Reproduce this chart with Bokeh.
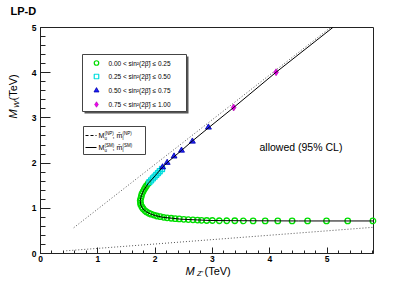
import math
from bokeh.plotting import figure
from bokeh.models import Label, BoxAnnotation, Range1d, FixedTicker, LinearAxis
from bokeh.embed import file_html
from bokeh.resources import INLINE

# ---------------- data (TeV) ----------------
# SM-like solid curve (M_Z', M_W')
sm_x = [5.10, 4.11, 3.37, 2.94, 2.66, 2.46, 2.32, 2.21, 2.13, 2.00, 1.88, 1.80,
        1.76, 1.74, 1.75, 1.79, 1.85, 1.91, 2.00, 2.14, 2.30, 2.44, 2.70, 2.96,
        3.50, 4.50, 5.81]
sm_y = [5.00, 4.01, 3.23, 2.79, 2.50, 2.28, 2.13, 2.01, 1.91, 1.72, 1.55, 1.40,
        1.28, 1.17, 1.07, 0.98, 0.92, 0.88, 0.84, 0.80, 0.78, 0.76, 0.745, 0.73,
        0.725, 0.72, 0.72]

# NP dotted bounds
np_up_x = [0.58, 5.06]
np_up_y = [0.57, 5.00]
np_lo_x = [0.45, 5.81]
np_lo_y = [0.06, 0.58]

# 0.00 < sin^2 <= 0.25 (green circles)
g_x = [1.88, 1.85, 1.83, 1.81, 1.79, 1.77, 1.76, 1.75, 1.74, 1.745, 1.75, 1.77,
       1.79, 1.82, 1.85, 1.89, 1.93, 1.98, 2.03, 2.09, 2.15, 2.21, 2.28, 2.35,
       2.42, 2.50, 2.58, 2.66, 2.74, 2.81, 2.90, 3.00, 3.12, 3.25, 3.39, 3.54,
       3.71, 3.92, 4.14, 4.39, 4.66, 4.99, 5.36, 5.80]
g_y = [1.55, 1.50, 1.46, 1.42, 1.37, 1.32, 1.27, 1.22, 1.17, 1.12, 1.08, 1.03,
       0.99, 0.95, 0.92, 0.89, 0.87, 0.85, 0.83, 0.815, 0.80, 0.79, 0.78, 0.77,
       0.765, 0.755, 0.75, 0.745, 0.74, 0.735, 0.73, 0.73, 0.725, 0.725, 0.725, 0.72,
       0.72, 0.72, 0.72, 0.72, 0.72, 0.72, 0.72, 0.72]
# 0.25 < sin^2 <= 0.50 (cyan squares)
c_x = [1.90, 1.93, 1.96, 1.99, 2.02, 2.05, 2.08, 2.12]
c_y = [1.58, 1.62, 1.66, 1.70, 1.74, 1.78, 1.82, 1.87]
# 0.50 < sin^2 <= 0.75 (blue triangles)
b_x = [2.13, 2.21, 2.33, 2.46, 2.65, 2.93]
b_y = [1.91, 2.01, 2.15, 2.28, 2.48, 2.79]
# 0.75 < sin^2 <= 1.00 (magenta)
m_x = [3.37, 4.11]
m_y = [3.23, 4.01]

x_ticks = [0, 1, 2, 3, 4, 5]
y_ticks = [0, 1, 2, 3, 4, 5]
legend_labels = ["0.00 < sin\u00b2(2\u03b2\u0303) \u2264 0.25",
                 "0.25 < sin\u00b2(2\u03b2\u0303) \u2264 0.50",
                 "0.50 < sin\u00b2(2\u03b2\u0303) \u2264 0.75",
                 "0.75 < sin\u00b2(2\u03b2\u0303) \u2264 1.00"]

# ---------------- layout ----------------
XMAX, YMAX = 5.81, 5.0
W, H = 415, 281
PX0, PY0 = 40, 253        # page px of the data origin
FW, FH = 333, 226         # page px of the data box


def dx(px):
    return (px - PX0) / FW * XMAX


def dy(py):
    return (PY0 - py) / FH * YMAX


# the frame spans the whole canvas; axes are pinned at data 0
p = figure(width=W, height=H, output_backend="svg", toolbar_location=None,
           x_range=Range1d(dx(0), dx(W)), y_range=Range1d(dy(H), dy(0)),
           x_axis_location=None, y_axis_location=None,
           min_border_left=0, min_border_right=0, min_border_top=0,
           min_border_bottom=0, title_location=None)
p.grid.visible = False
p.outline_line_color = None
p.background_fill_color = "white"
p.border_fill_color = "white"

xa = LinearAxis(fixed_location=0, bounds=(0, XMAX),
                ticker=FixedTicker(ticks=x_ticks, minor_ticks=[i * 0.2 for i in range(30)]))
ya = LinearAxis(fixed_location=0, bounds=(0, YMAX),
                ticker=FixedTicker(ticks=y_ticks, minor_ticks=[i * 0.2 for i in range(26)]))
for ax, tin, mtin, st in ((xa, 6, 3, 2), (ya, 10, 5, 4)):
    ax.major_tick_in = tin
    ax.major_tick_out = 0
    ax.minor_tick_in = mtin
    ax.minor_tick_out = 0
    ax.major_label_standoff = st
    ax.major_label_text_font = "Liberation Sans"
    ax.major_label_text_font_style = "bold"
    ax.major_label_text_font_size = "8.5px"
    ax.major_label_text_color = "black"
    ax.axis_line_color = "#222222"
    ax.major_tick_line_color = "#222222"
    ax.minor_tick_line_color = "#222222"
p.add_layout(xa, "below")
p.add_layout(ya, "left")

# plot frame (top and right edges; the axes draw bottom and left)
p.add_layout(BoxAnnotation(left=0, right=XMAX, bottom=0, top=YMAX, fill_alpha=0,
                           line_color="#222222", line_width=1, line_alpha=1,
                           level="underlay"))

# ---------------- glyphs ----------------
p.line(np_up_x, np_up_y, line_color="#555555", line_dash="1 2", line_width=1)
p.line(np_lo_x, np_lo_y, line_color="#555555", line_dash="1 2", line_width=1)

p.scatter(g_x, g_y, marker="circle", size=5.5, fill_color=None,
          line_color="#00dd00", line_width=1.3)
p.scatter(c_x, c_y, marker="square", size=5, fill_color=None,
          line_color="#00dddd", line_width=1.3)
p.scatter(b_x, b_y, marker="triangle", size=6, fill_color="#2020ff",
          line_color="#0000aa", line_width=0.8)
p.scatter(m_x, m_y, marker="diamond", size=7, fill_color="#ee00ee",
          line_color="#aa00aa", line_width=0.6)
p.line(sm_x, sm_y, line_color="black", line_width=1)


def T(px, py, text, size, style="normal", align="left", baseline="middle",
      angle=0.0, color="black"):
    p.add_layout(Label(x=dx(px), y=dy(py), text=text, text_font="Liberation Sans",
                       text_font_size=f"{size}px", text_font_style=style,
                       text_align=align, text_baseline=baseline, angle=angle,
                       text_color=color))


def box(l, t, r, b, shadow=False):
    if shadow:
        p.add_layout(BoxAnnotation(left=dx(l + 2), right=dx(r + 2), top=dy(t + 2),
                                   bottom=dy(b + 2), fill_color="#555555",
                                   fill_alpha=1, line_color=None, level="underlay"))
    p.add_layout(BoxAnnotation(left=dx(l), right=dx(r), top=dy(t), bottom=dy(b),
                               fill_color="white", fill_alpha=1,
                               line_color="#444444", line_width=1, line_alpha=1,
                               level="underlay"))


# legend 1
box(82, 54, 186, 111, shadow=True)
rows = [62.5, 76, 90, 104]
p.scatter([dx(96)], [dy(rows[0])], marker="circle", size=4.5, fill_color=None,
          line_color="#00dd00", line_width=1.2)
p.scatter([dx(96)], [dy(rows[1])], marker="square", size=4.5, fill_color=None,
          line_color="#00dddd", line_width=1.2)
p.scatter([dx(96)], [dy(rows[2])], marker="triangle", size=5, fill_color="#2020ff",
          line_color="#0000aa", line_width=0.8)
p.scatter([dx(96)], [dy(rows[3])], marker="diamond", size=5.5, fill_color="#ee00ee",
          line_color="#aa00aa", line_width=0.6)
for r, s in zip(rows, legend_labels):
    T(108, r, s, 6.5)

# legend 2
box(83, 126, 145, 154)
p.line([dx(85), dx(96)], [dy(135), dy(135)], line_color="black", line_width=1,
       line_dash="3 2")
p.line([dx(85), dx(96)], [dy(147), dy(147)], line_color="black", line_width=1)
for yy, tag in ((135, "(NP)"), (147, "(SM)")):
    T(98, yy, "M", 7)
    T(104, yy + 2.5, "u", 4.5)
    T(104, yy - 2.5, tag, 4.5)
    T(112, yy, ", m\u0304", 7)
    T(122, yy + 2.5, "l", 4.5)
    T(122, yy - 2.5, tag, 4.5)

T(259, 146, "allowed (95% CL)", 10.5)
T(10, 10, "LP-D", 11, style="bold")

# x axis title
T(185, 270, "M", 11, style="italic")
T(196.5, 273, "Z'", 7.5, style="italic")
T(204, 270, "(TeV)", 11)
# y axis title
T(12, 118, "M", 11, style="italic", angle=math.pi / 2)
T(15.5, 107.5, "W'", 7.5, style="italic", angle=math.pi / 2)
T(12, 100, "(TeV)", 11, angle=math.pi / 2)

open("out.html", "w").write(file_html(p, INLINE))
